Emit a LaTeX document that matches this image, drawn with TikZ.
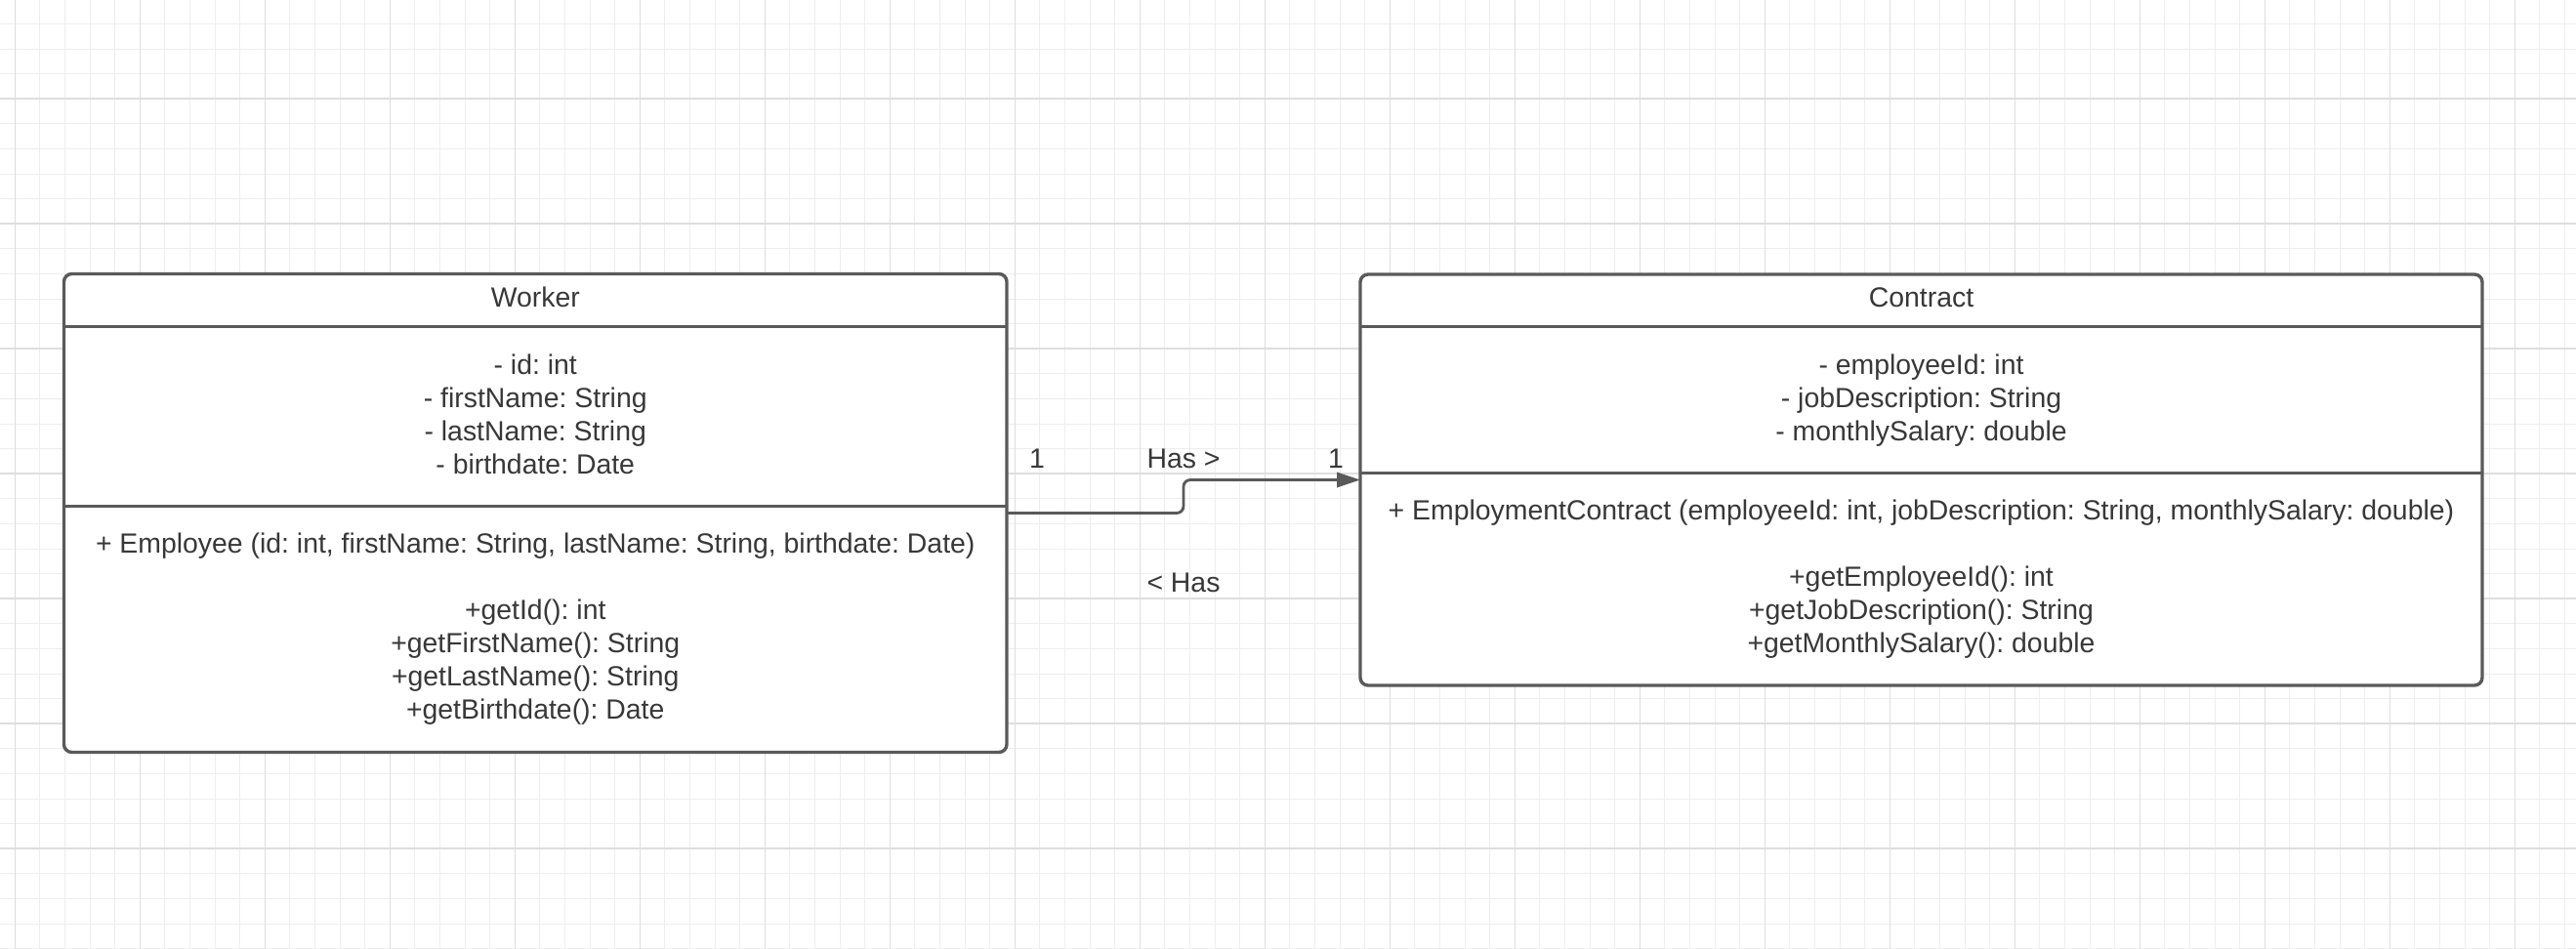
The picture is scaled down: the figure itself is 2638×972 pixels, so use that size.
\documentclass[tikz,border=0pt]{standalone}
\usepackage{fontspec}
\setmainfont{Liberation Sans}
\usetikzlibrary{arrows.meta,calc}
\definecolor{linec}{HTML}{5A5A5A}
\definecolor{textc}{HTML}{383838}
\definecolor{gridminor}{HTML}{EEEEEE}
\definecolor{gridmajor}{HTML}{DEDEDE}
\frenchspacing
\begin{document}
\begin{tikzpicture}[x=0.25pt,y=-0.25pt,
  classbox/.style={draw=linec, line width=0.85pt, fill=white, rounded corners=2pt, inner sep=0pt, outer sep=0pt},
  sepline/.style={draw=linec, line width=0.85pt},
  txt/.style={anchor=base, inner sep=0pt, text=textc, font=\fontsize{7.1}{8.5}\selectfont\frenchspacing},
  conn/.style={draw=linec, line width=0.7pt, rounded corners=1.75pt, -{Triangle[length=6pt,width=3.8pt]}},
  gmin/.style={draw=gridminor, line width=0.25pt},
  gmaj/.style={draw=gridmajor, line width=0.4pt}
]
\useasboundingbox (0,0) rectangle (2638,972);
\fill[white] (0,0) rectangle (2638,972);
% grid
\foreach \k in {0,...,102} \draw[gmin] ({15.3+25.6*\k},0) -- ({15.3+25.6*\k},972);
\foreach \k in {1,...,38} \draw[gmin] (0,{-1.1+25.6*\k}) -- (2638,{-1.1+25.6*\k});
\foreach \k in {0,...,20} \draw[gmaj] ({15.3+128*\k},0) -- ({15.3+128*\k},972);
\foreach \k in {0,...,6} \draw[gmaj] (0,{101.3+128*\k}) -- (2638,{101.3+128*\k});

% class boxes
\node[classbox, minimum width=241.375pt, minimum height=122.5pt] (worker) at (548.25,525.5) {};
\node[classbox, minimum width=287.25pt, minimum height=105.25pt] (contract) at (1967.5,491.5) {};

\draw[sepline] (worker.west |- 0,334.5) -- (worker.east |- 0,334.5);
\draw[sepline] (worker.west |- 0,518.5) -- (worker.east |- 0,518.5);
\draw[sepline] (contract.west |- 0,334.5) -- (contract.east |- 0,334.5);
\draw[sepline] (contract.west |- 0,484.5) -- (contract.east |- 0,484.5);

% Worker texts
\node[txt] (w-title) at (548.25,315) {Worker};
\node[txt] (w-a1) at (548.25,383.5) {- id: int};
\node[txt] (w-a2) at (548.25,417.5) {- firstName: String};
\node[txt] (w-a3) at (548.25,451.5) {- lastName: String};
\node[txt] (w-a4) at (548.25,485.5) {- birthdate: Date};
\node[txt] (w-m0) at (548.25,566.5) {+ Employee (id: int, firstName: String, lastName: String, birthdate: Date)};
\node[txt] (w-m1) at (548.25,634.5) {+getId(): int};
\node[txt] (w-m2) at (548.25,668.5) {+getFirstName(): String};
\node[txt] (w-m3) at (548.25,702.5) {+getLastName(): String};
\node[txt] (w-m4) at (548.25,736.5) {+getBirthdate(): Date};

% Contract texts
\node[txt] (c-title) at (1967.5,315) {Contract};
\node[txt] (c-a1) at (1967.5,383.5) {- employeeId: int};
\node[txt] (c-a2) at (1967.5,417.5) {- jobDescription: String};
\node[txt] (c-a3) at (1967.5,451.5) {- monthlySalary: double};
\node[txt] (c-m0) at (1967.5,532.5) {+ EmploymentContract (employeeId: int, jobDescription: String, monthlySalary: double)};
\node[txt] (c-m1) at (1967.5,600.5) {+getEmployeeId(): int};
\node[txt] (c-m2) at (1967.5,634.5) {+getJobDescription(): String};
\node[txt] (c-m3) at (1967.5,668.5) {+getMonthlySalary(): double};

% connector
\coordinate (bend) at ($(worker.east)!0.5!(contract.west)$);
\draw[conn] (worker.east) -| (bend) |- (contract.west);

\node[txt] (mult1) at (1062,480) {1};
\node[txt] (has1) at (1212,480) {Has >};
\node[txt] (mult2) at (1368,480) {1};
\node[txt] (has2) at (1212,607) {< Has};
\end{tikzpicture}
\end{document}
